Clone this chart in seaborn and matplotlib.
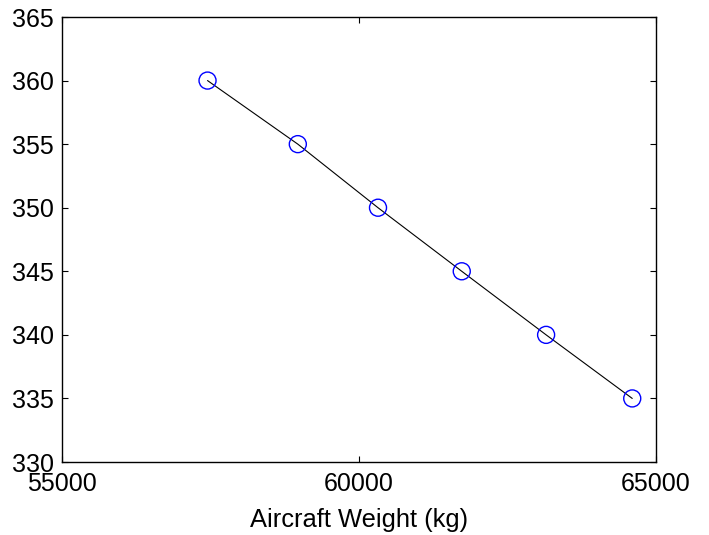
import matplotlib
matplotlib.use("Agg")
import matplotlib.pyplot as plt
import seaborn as sns
import pandas as pd

weight_kg = [57450, 58970, 60320, 61730, 63150, 64600]
speed = [360, 355, 350, 345, 340, 335]
x_ticks = [55000, 60000, 65000]
y_ticks = [330, 335, 340, 345, 350, 355, 360, 365]

sns.set_theme(style="ticks")
plt.rcParams['font.family'] = ['Liberation Sans', 'DejaVu Sans']

df = pd.DataFrame({"weight": weight_kg, "speed": speed})

fig = plt.figure(figsize=(7.09, 5.35), dpi=100)
ax = fig.add_axes([62/709, 1 - 462/535, (656-62)/709, (462-17)/535])

sns.lineplot(data=df, x="weight", y="speed", ax=ax, color="black", linewidth=0.8, sort=False)
sns.scatterplot(data=df, x="weight", y="speed", ax=ax, marker="o", s=150,
                facecolor="none", edgecolor="#0000ff", linewidth=1.0, zorder=3)

ax.set_xlim(55000, 65000)
ax.set_ylim(330, 365)
ax.set_xticks(x_ticks)
ax.set_yticks(y_ticks)
ax.set_xticklabels([str(v) for v in x_ticks])
ax.set_yticklabels([str(v) for v in y_ticks])
ax.set_xlabel("Aircraft Weight (kg)", fontsize=18.4, labelpad=8, color="black")
ax.set_ylabel("")
ax.tick_params(direction="in", length=4, width=0.8, labelsize=18, colors="black",
               top=True, right=True)
ax.tick_params(axis="x", pad=7.5)
ax.tick_params(axis="y", pad=6)
for sp in ax.spines.values():
    sp.set_visible(True)
    sp.set_color("black")
    sp.set_linewidth(1.0)

fig.savefig("out.png", dpi=100, facecolor="white")
